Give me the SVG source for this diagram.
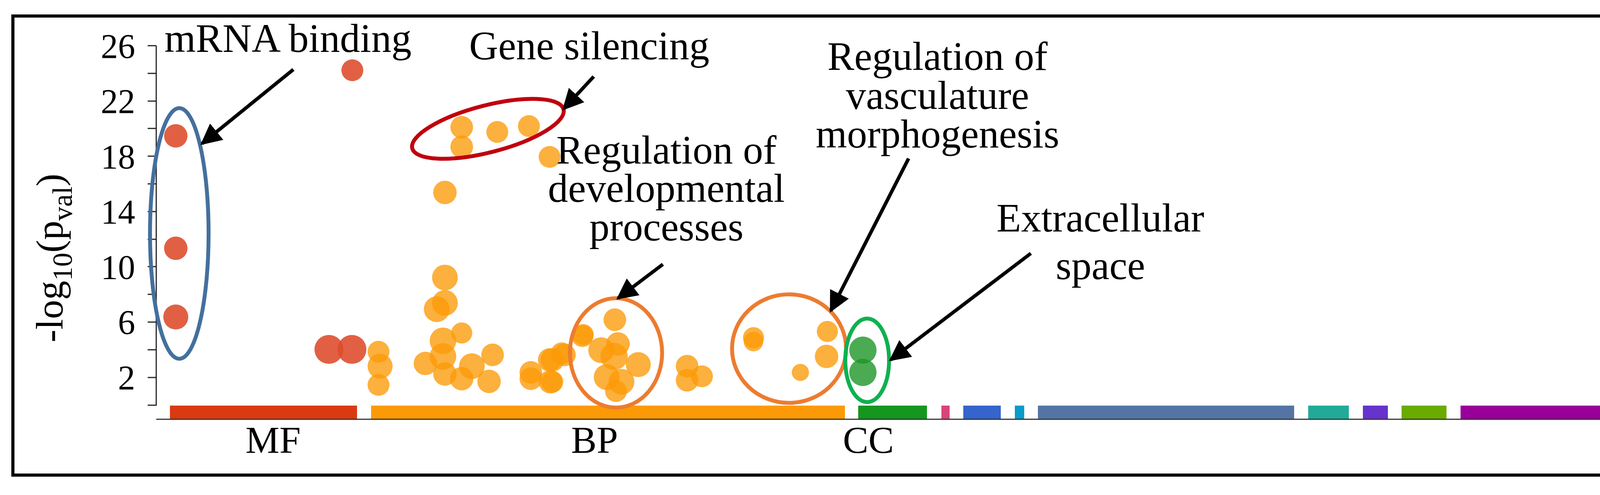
<svg xmlns="http://www.w3.org/2000/svg" width="4398" height="1268" viewBox="0 0 4398 1268">
<style>
text{font-family:"Liberation Serif","Times New Roman",serif;fill:#000}
.lab{font-size:103px}
.tk{font-size:88px;text-anchor:end}
.ax{font-size:98px;text-anchor:middle}
.o{fill:#fb9a06;opacity:.78}
.r{fill:#dd4a2a;opacity:.88}
.g{fill:#1e9628;opacity:.8}
.arr{stroke:#000;stroke-width:9;fill:none;marker-end:url(#ah)}
.ring{fill:none;stroke-width:10}
</style>
<defs>
<marker id="ah" viewBox="0 0 10 10" refX="9" refY="5" markerWidth="6" markerHeight="6" markerUnits="strokeWidth" orient="auto"><path d="M0,0L10,5L0,10z" fill="#000"/></marker>
</defs>
<rect width="4398" height="1268" fill="#fff"/>
<rect x="33" y="41" width="4329" height="1176" fill="none" stroke="#000" stroke-width="8"/>
<g id="axis">
<path d="M400,117V1039M378,117H400M378,188H400M378,259H400M378,329H400M378,400H400M378,471H400M378,542H400M378,613H400M378,683H400M378,754H400M378,825H400M378,896H400M378,967H400M378,1038H400" stroke="#222" stroke-width="3" fill="none"/>
<text class="tk" x="346" y="148">26</text><text class="tk" x="346" y="289">22</text><text class="tk" x="346" y="431">18</text><text class="tk" x="346" y="572">14</text><text class="tk" x="346" y="714">10</text><text class="tk" x="346" y="855">6</text><text class="tk" x="346" y="997">2</text>
<text class="ax" font-size="110" transform="translate(160,661) rotate(-90)">-log<tspan font-size="72" dy="24">10</tspan><tspan dy="-24">(p</tspan><tspan font-size="72" dy="24">val</tspan><tspan dy="-24">)</tspan></text>
</g>
<g id="bars">
<rect x="435" y="1039" width="479" height="35" fill="#d93a12"/>
<rect x="950" y="1039" width="1213" height="35" fill="#fb9a06"/>
<rect x="2197" y="1039" width="176" height="35" fill="#15961f"/>
<rect x="2410" y="1039" width="21" height="35" fill="#d9437a"/>
<rect x="2466" y="1039" width="96" height="35" fill="#3464cc"/>
<rect x="2598" y="1039" width="24" height="35" fill="#0a9bc8"/>
<rect x="2657" y="1039" width="656" height="35" fill="#5474a6"/>
<rect x="3349" y="1039" width="104" height="35" fill="#20ab98"/>
<rect x="3489" y="1039" width="64" height="35" fill="#6633cc"/>
<rect x="3588" y="1039" width="115" height="35" fill="#6aab00"/>
<rect x="3739" y="1039" width="595" height="35" fill="#990099"/>
<path d="M400,1074H4334" stroke="#333" stroke-width="3"/>
<text class="ax" x="699" y="1160">MF</text><text class="ax" x="1522" y="1160">BP</text><text class="ax" x="2223" y="1160">CC</text>
</g>
<g id="points">
<circle class="r" cx="902" cy="180" r="28"/><circle class="r" cx="450" cy="348" r="30"/><circle class="r" cx="450" cy="636" r="30"/><circle class="r" cx="450" cy="812" r="32"/><circle class="r" cx="842" cy="895" r="37"/><circle class="r" cx="901" cy="895" r="37"/>
<circle class="o" cx="1182" cy="326" r="29"/><circle class="o" cx="1182" cy="376" r="29"/><circle class="o" cx="1273" cy="338" r="28"/><circle class="o" cx="1354" cy="323" r="28"/><circle class="o" cx="1407" cy="402" r="28"/><circle class="o" cx="1139" cy="493" r="30"/>
<circle class="o" cx="1139" cy="711" r="33"/><circle class="o" cx="1139" cy="776" r="33"/><circle class="o" cx="1118" cy="792" r="33"/><circle class="o" cx="1182" cy="853" r="27"/><circle class="o" cx="1134" cy="873" r="34"/><circle class="o" cx="1134" cy="913" r="34"/><circle class="o" cx="1089" cy="931" r="30"/><circle class="o" cx="1139" cy="958" r="30"/><circle class="o" cx="1182" cy="970" r="30"/><circle class="o" cx="1208" cy="938" r="33"/><circle class="o" cx="1252" cy="977" r="30"/><circle class="o" cx="1261" cy="909" r="29"/><circle class="o" cx="969" cy="901" r="28"/><circle class="o" cx="973" cy="938" r="32"/><circle class="o" cx="969" cy="986" r="28"/><circle class="o" cx="1359" cy="954" r="29"/><circle class="o" cx="1359" cy="970" r="29"/><circle class="o" cx="1407" cy="922" r="30"/><circle class="o" cx="1409" cy="978" r="30"/><circle class="o" cx="1445" cy="909" r="29"/><circle class="o" cx="1493" cy="857" r="27"/>
<circle class="o" cx="1414" cy="922" r="30"/><circle class="o" cx="1438" cy="905" r="28"/><circle class="o" cx="1414" cy="978" r="28"/><circle class="o" cx="1491" cy="861" r="28"/>
<circle class="o" cx="1574" cy="819" r="29"/><circle class="o" cx="1539" cy="897" r="33"/><circle class="o" cx="1572" cy="913" r="35"/><circle class="o" cx="1634" cy="934" r="32"/><circle class="o" cx="1553" cy="966" r="33"/><circle class="o" cx="1591" cy="978" r="33"/><circle class="o" cx="1577" cy="1002" r="28"/><circle class="o" cx="1582" cy="881" r="30"/>
<circle class="o" cx="1759" cy="938" r="29"/><circle class="o" cx="1759" cy="974" r="29"/><circle class="o" cx="1797" cy="964" r="28"/>
<circle class="o" cx="1929" cy="865" r="27"/><circle class="o" cx="1929" cy="875" r="25"/><circle class="o" cx="2118" cy="849" r="27"/><circle class="o" cx="2116" cy="913" r="30"/><circle class="o" cx="2049" cy="954" r="22"/>
<circle class="g" cx="2209" cy="897" r="35"/><circle class="g" cx="2209" cy="954" r="35"/>
</g>
<g id="rings">
<ellipse class="ring" cx="459" cy="598" rx="75" ry="321" stroke="#44709d"/>
<ellipse class="ring" cx="1249" cy="330" rx="200" ry="60" transform="rotate(-14.5 1249 330)" stroke="#c0000e"/>
<ellipse class="ring" cx="1577" cy="904" rx="118" ry="140" stroke="#ec7c30"/>
<ellipse class="ring" cx="2020" cy="893" rx="146" ry="139" stroke="#ec7c30"/>
<ellipse class="ring" cx="2220" cy="923" rx="56" ry="107" stroke="#10b050" stroke-width="9"/>
</g>
<g id="labels">
<text class="lab" x="421" y="133">mRNA binding</text>
<text class="lab" x="1201" y="152">Gene silencing</text>
<text class="lab" text-anchor="middle" x="1706" y="419">Regulation of</text>
<text class="lab" text-anchor="middle" x="1706" y="517">developmental</text>
<text class="lab" text-anchor="middle" x="1706" y="616">processes</text>
<text class="lab" text-anchor="middle" x="2400" y="179">Regulation of</text>
<text class="lab" text-anchor="middle" x="2400" y="279">vasculature</text>
<text class="lab" text-anchor="middle" x="2400" y="378">morphogenesis</text>
<text class="lab" text-anchor="middle" x="2817" y="593">Extracellular</text>
<text class="lab" text-anchor="middle" x="2817" y="715">space</text>
</g>
<g id="connectors">
<path class="arr" d="M751,178L517,368"/>
<path class="arr" d="M1520,196L1443,279"/>
<path class="arr" d="M1697,677L1582,764"/>
<path class="arr" d="M2326,406L2127,796"/>
<path class="arr" d="M2639,649L2280,922"/>
</g>
</svg>
